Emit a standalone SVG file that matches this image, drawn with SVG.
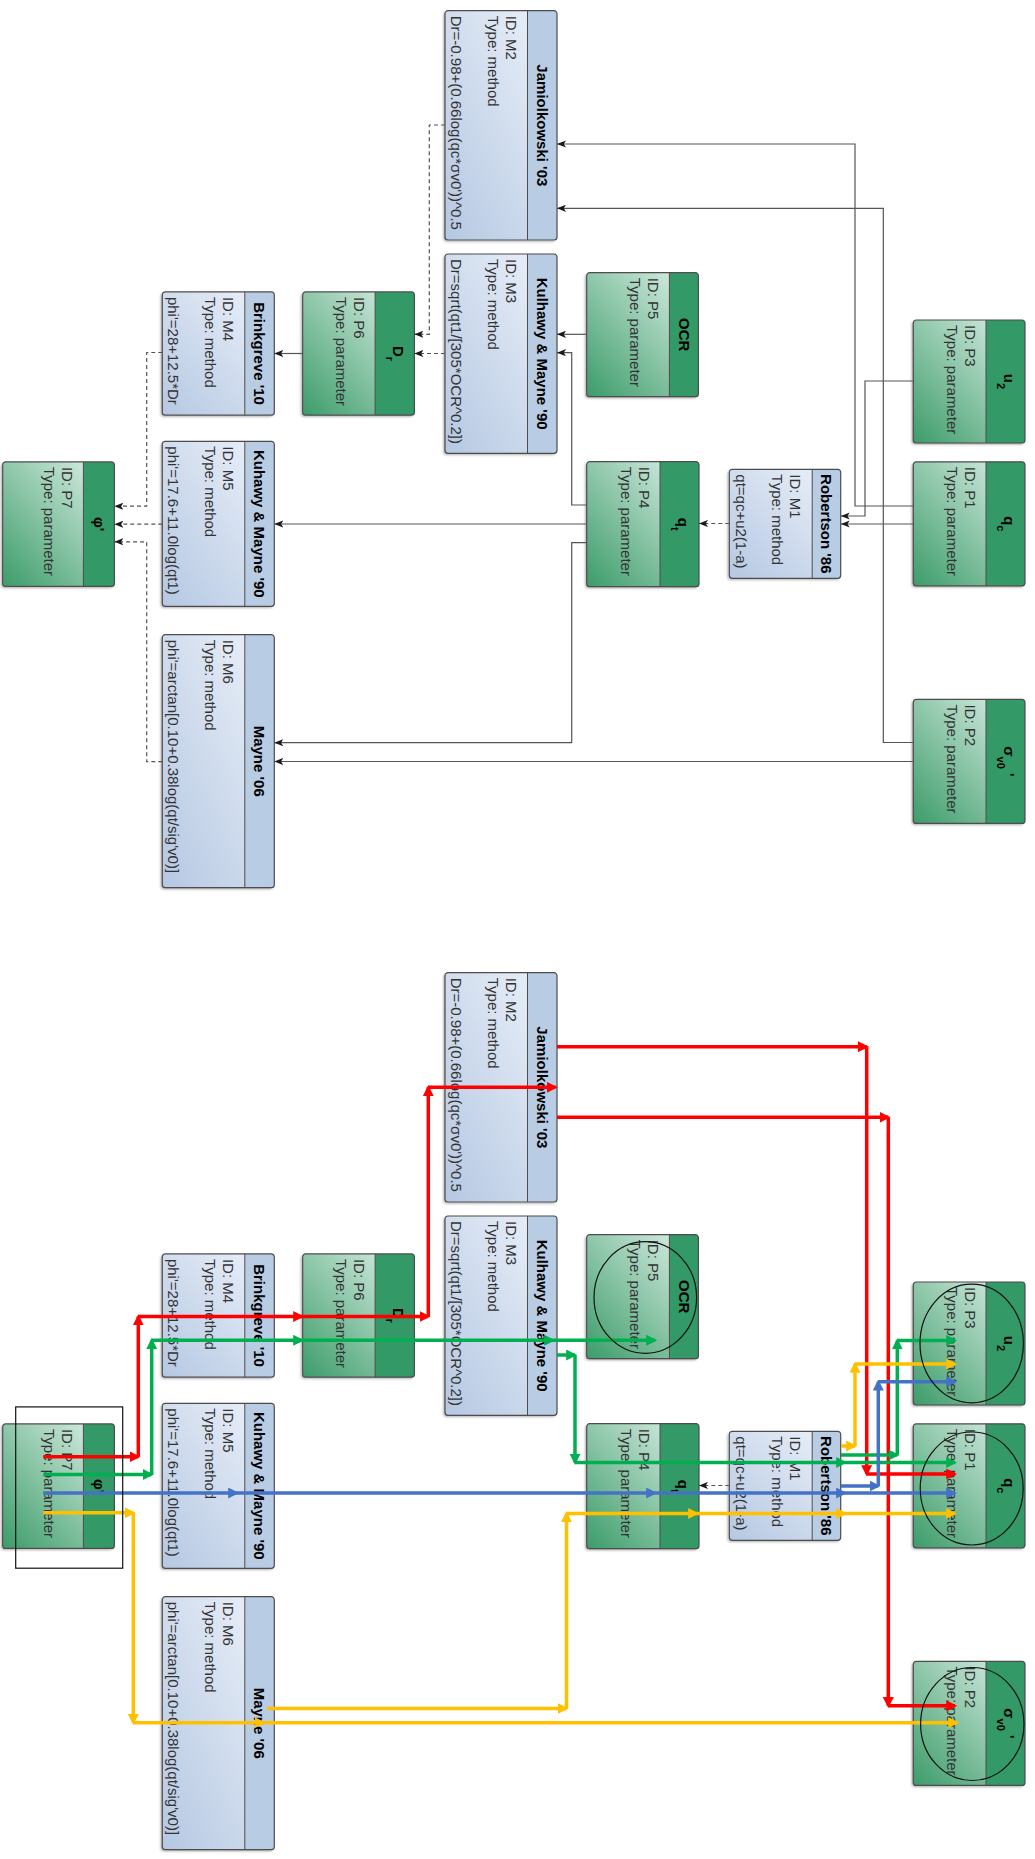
<svg xmlns="http://www.w3.org/2000/svg" width="1035" height="1859" viewBox="0 0 1035 1859">
<defs>
<linearGradient id="gm" x1="0" y1="0" x2="1" y2="1"><stop offset="0" stop-color="#edf2fa"/><stop offset="1" stop-color="#b5c8e2"/></linearGradient>
<linearGradient id="gp" x1="0" y1="0" x2="1" y2="1"><stop offset="0" stop-color="#e2f3ec"/><stop offset="1" stop-color="#3c9c69"/></linearGradient>
<filter id="sh" x="-10%" y="-10%" width="130%" height="130%"><feDropShadow dx="1.5" dy="1.5" stdDeviation="1.2" flood-color="#000" flood-opacity="0.35"/></filter>
<marker id="ag" viewBox="0 0 10 8" refX="10" refY="4" markerWidth="9" markerHeight="7.2" markerUnits="userSpaceOnUse" orient="auto"><path d="M0,0L10,4L0,8L2.5,4Z" fill="#1a1a1a"/></marker>
<marker id="ar" viewBox="0 0 10 10" refX="8" refY="5" markerWidth="11" markerHeight="11" markerUnits="userSpaceOnUse" orient="auto"><path d="M0,0L10,5L0,10Z" fill="#ff0000"/></marker>
<marker id="agr" viewBox="0 0 10 10" refX="8" refY="5" markerWidth="11" markerHeight="11" markerUnits="userSpaceOnUse" orient="auto"><path d="M0,0L10,5L0,10Z" fill="#00b050"/></marker>
<marker id="abl" viewBox="0 0 10 10" refX="8" refY="5" markerWidth="11" markerHeight="11" markerUnits="userSpaceOnUse" orient="auto"><path d="M0,0L10,5L0,10Z" fill="#4472c4"/></marker>
<marker id="ayl" viewBox="0 0 10 10" refX="8" refY="5" markerWidth="11" markerHeight="11" markerUnits="userSpaceOnUse" orient="auto"><path d="M0,0L10,5L0,10Z" fill="#ffc000"/></marker>
</defs>
<style>
.mb{fill:url(#gm);filter:url(#sh)}
.pb{fill:url(#gp);filter:url(#sh)}
.mh{fill:#b8cce4}
.ph{fill:#339966}
.ol{fill:none;stroke:#4d4d4d;stroke-width:1.2}
.dv{stroke:#4d4d4d;stroke-width:1}
.t{font-family:"Liberation Sans",Arial,sans-serif;font-weight:bold;font-size:15px;fill:#000;text-anchor:middle}
.s{font-size:11px}
.b{font-family:"Liberation Sans",Arial,sans-serif;font-size:15px;fill:#333}
.c{fill:none;stroke:#555;stroke-width:1.2;marker-end:url(#ag)}
.d{stroke-dasharray:4 3}
.r{fill:none;stroke:#ff0000;stroke-width:3.5;marker-end:url(#ar)}
.g{fill:none;stroke:#00b050;stroke-width:3.5;marker-end:url(#agr)}
.u{fill:none;stroke:#4472c4;stroke-width:3.5;marker-end:url(#abl)}
.y{fill:none;stroke:#ffc000;stroke-width:3.5;marker-end:url(#ayl)}
.e{fill:none;stroke:#111;stroke-width:1.2}
</style>
<rect width="1035" height="1859" fill="#fff"/>

<g id="top-nodes">
<g id="M2" transform="translate(557,10.7) rotate(90)"><rect class="mb" width="229.3" height="112" rx="3"/><path class="mh" d="M3,0H226.3A3,3 0 0 1 229.3,3V29.5H0V3A3,3 0 0 1 3,0Z"/><rect class="ol" width="229.3" height="112" rx="3"/><line class="dv" x1="0" y1="29.5" x2="229.3" y2="29.5"/><text class="t" x="114.65" y="20.25">Jamiolkowski '03</text><text class="b" x="5" y="51.3">ID: M2</text><text class="b" x="5" y="69.5">Type: method</text><text class="b" x="5" y="105.9">Dr=-0.98+(0.66log(qc*σv0'))^0.5</text></g>
<g id="M3" transform="translate(557,254) rotate(90)"><rect class="mb" width="199.3" height="112" rx="3"/><path class="mh" d="M3,0H196.3A3,3 0 0 1 199.3,3V29.5H0V3A3,3 0 0 1 3,0Z"/><rect class="ol" width="199.3" height="112" rx="3"/><line class="dv" x1="0" y1="29.5" x2="199.3" y2="29.5"/><text class="t" x="99.65" y="20.25">Kulhawy &amp; Mayne '90</text><text class="b" x="5" y="51.3">ID: M3</text><text class="b" x="5" y="69.5">Type: method</text><text class="b" x="5" y="105.9">Dr=sqrt(qt1/[305*OCR^0.2])</text></g>
<g id="M4" transform="translate(274.3,291.9) rotate(90)"><rect class="mb" width="123.3" height="112" rx="3"/><path class="mh" d="M3,0H120.3A3,3 0 0 1 123.3,3V29.5H0V3A3,3 0 0 1 3,0Z"/><rect class="ol" width="123.3" height="112" rx="3"/><line class="dv" x1="0" y1="29.5" x2="123.3" y2="29.5"/><text class="t" x="61.65" y="20.25">Brinkgreve '10</text><text class="b" x="5" y="51.3">ID: M4</text><text class="b" x="5" y="69.5">Type: method</text><text class="b" x="5" y="105.9">phi'=28+12.5*Dr</text></g>
<g id="M5" transform="translate(274.3,441.3) rotate(90)"><rect class="mb" width="165" height="112" rx="3"/><path class="mh" d="M3,0H162A3,3 0 0 1 165,3V29.5H0V3A3,3 0 0 1 3,0Z"/><rect class="ol" width="165" height="112" rx="3"/><line class="dv" x1="0" y1="29.5" x2="165" y2="29.5"/><text class="t" x="82.5" y="20.25">Kuhawy &amp; Mayne '90</text><text class="b" x="5" y="51.3">ID: M5</text><text class="b" x="5" y="69.5">Type: method</text><text class="b" x="5" y="105.9">phi'=17.6+11.0log(qt1)</text></g>
<g id="M6" transform="translate(274.3,634.7) rotate(90)"><rect class="mb" width="253" height="112" rx="3"/><path class="mh" d="M3,0H250A3,3 0 0 1 253,3V29.5H0V3A3,3 0 0 1 3,0Z"/><rect class="ol" width="253" height="112" rx="3"/><line class="dv" x1="0" y1="29.5" x2="253" y2="29.5"/><text class="t" x="126.5" y="20.25">Mayne '06</text><text class="b" x="5" y="51.3">ID: M6</text><text class="b" x="5" y="69.5">Type: method</text><text class="b" x="5" y="105.9">phi'=arctan[0.10+0.38log(qt/sig'v0)]</text></g>
<g id="M1" transform="translate(840.7,469.3) rotate(90)"><rect class="mb" width="109" height="111.4" rx="3"/><path class="mh" d="M3,0H106A3,3 0 0 1 109,3V28.5H0V3A3,3 0 0 1 3,0Z"/><rect class="ol" width="109" height="111.4" rx="3"/><line class="dv" x1="0" y1="28.5" x2="109" y2="28.5"/><text class="t" x="54.5" y="19.75">Robertson '86</text><text class="b" x="5" y="50.3">ID: M1</text><text class="b" x="5" y="68.5">Type: method</text><text class="b" x="5" y="104.9">qt=qc+u2(1-a)</text></g>
<g id="P5" transform="translate(698.4,272.7) rotate(90)"><rect class="pb" width="124" height="111.7" rx="3"/><path class="ph" d="M3,0H121A3,3 0 0 1 124,3V29H0V3A3,3 0 0 1 3,0Z"/><rect class="ol" width="124" height="111.7" rx="3"/><line class="dv" x1="0" y1="29" x2="124" y2="29"/><text class="t" x="62" y="19.8">OCR</text><text class="b" x="5" y="50">ID: P5</text><text class="b" x="5" y="68.5">Type: parameter</text></g>
<g id="P6" transform="translate(414.4,291.9) rotate(90)"><rect class="pb" width="123.3" height="111.7" rx="3"/><path class="ph" d="M3,0H120.3A3,3 0 0 1 123.3,3V39.3H0V3A3,3 0 0 1 3,0Z"/><rect class="ol" width="123.3" height="111.7" rx="3"/><line class="dv" x1="0" y1="39.3" x2="123.3" y2="39.3"/><text class="t" x="61.65" y="21.5">D<tspan class="s" dy="7">r</tspan></text><text class="b" x="5" y="60.3">ID: P6</text><text class="b" x="5" y="78.8">Type: parameter</text></g>
<g id="P7" transform="translate(114.4,461.9) rotate(90)"><rect class="pb" width="124.5" height="111.7" rx="3"/><path class="ph" d="M3,0H121.5A3,3 0 0 1 124.5,3V31H0V3A3,3 0 0 1 3,0Z"/><rect class="ol" width="124.5" height="111.7" rx="3"/><line class="dv" x1="0" y1="31" x2="124.5" y2="31"/><text class="t" x="62.25" y="20.5">φ'</text><text class="b" x="5" y="52">ID: P7</text><text class="b" x="5" y="70.5">Type: parameter</text></g>
<g id="P4" transform="translate(699,461.7) rotate(90)"><rect class="pb" width="125" height="112.3" rx="3"/><path class="ph" d="M3,0H122A3,3 0 0 1 125,3V39H0V3A3,3 0 0 1 3,0Z"/><rect class="ol" width="125" height="112.3" rx="3"/><line class="dv" x1="0" y1="39" x2="125" y2="39"/><text class="t" x="62.5" y="21">q<tspan class="s" dy="7">t</tspan></text><text class="b" x="5" y="60">ID: P4</text><text class="b" x="5" y="78.5">Type: parameter</text></g>
<g id="P3" transform="translate(1025,320) rotate(90)"><rect class="pb" width="123" height="111.7" rx="3"/><path class="ph" d="M3,0H120A3,3 0 0 1 123,3V39H0V3A3,3 0 0 1 3,0Z"/><rect class="ol" width="123" height="111.7" rx="3"/><line class="dv" x1="0" y1="39" x2="123" y2="39"/><text class="t" x="61.5" y="21">u<tspan class="s" dy="7">2</tspan></text><text class="b" x="5" y="60">ID: P3</text><text class="b" x="5" y="78.5">Type: parameter</text></g>
<g id="P1" transform="translate(1025,461.8) rotate(90)"><rect class="pb" width="124" height="111.7" rx="3"/><path class="ph" d="M3,0H121A3,3 0 0 1 124,3V39H0V3A3,3 0 0 1 3,0Z"/><rect class="ol" width="124" height="111.7" rx="3"/><line class="dv" x1="0" y1="39" x2="124" y2="39"/><text class="t" x="62" y="21">q<tspan class="s" dy="7">c</tspan></text><text class="b" x="5" y="60">ID: P1</text><text class="b" x="5" y="78.5">Type: parameter</text></g>
<g id="P2" transform="translate(1025,699.4) rotate(90)"><rect class="pb" width="124" height="111.7" rx="3"/><path class="ph" d="M3,0H121A3,3 0 0 1 124,3V39H0V3A3,3 0 0 1 3,0Z"/><rect class="ol" width="124" height="111.7" rx="3"/><line class="dv" x1="0" y1="39" x2="124" y2="39"/><text class="t" x="62" y="21">σ<tspan class="s" dy="7">v0</tspan><tspan dy="-7"> '</tspan></text><text class="b" x="5" y="60">ID: P2</text><text class="b" x="5" y="78.5">Type: parameter</text></g>
</g>

<g id="top-connectors">
<path class="c" d="M913.3,506H855V144H557"/>
<path class="c" d="M913.3,742.5H883.3V208.3H557"/>
<path class="c" d="M586.7,334.3H557"/>
<path class="c" d="M586.7,505H571.7V352.7H557"/>
<path class="c" d="M913.3,381H865V516H840.7"/>
<path class="c" d="M913.3,524H840.7"/>
<path class="c d" d="M729.3,523.5H699"/>
<path class="c d" d="M445,125H429.3V334.3H414.4"/>
<path class="c d" d="M445,353.5H414.4"/>
<path class="c" d="M302.7,353.5H274.3"/>
<path class="c" d="M586.7,524H274.3"/>
<path class="c" d="M586.7,542.7H571.7V742.7H274.3"/>
<path class="c" d="M913.3,761.5H274.3"/>
<path class="c d" d="M162.3,352.5H146.7V506.2H114.4"/>
<path class="c d" d="M162.3,524.2H114.4"/>
<path class="c d" d="M162.3,761.6H146.7V541.8H114.4"/>
</g>

<g id="bottom-nodes">
<g id="M2b" transform="translate(557,972.7) rotate(90)"><rect class="mb" width="229.3" height="112" rx="3"/><path class="mh" d="M3,0H226.3A3,3 0 0 1 229.3,3V29.5H0V3A3,3 0 0 1 3,0Z"/><rect class="ol" width="229.3" height="112" rx="3"/><line class="dv" x1="0" y1="29.5" x2="229.3" y2="29.5"/><text class="t" x="114.65" y="20.25">Jamiolkowski '03</text><text class="b" x="5" y="51.3">ID: M2</text><text class="b" x="5" y="69.5">Type: method</text><text class="b" x="5" y="105.9">Dr=-0.98+(0.66log(qc*σv0'))^0.5</text></g>
<g id="M3b" transform="translate(557,1216) rotate(90)"><rect class="mb" width="199.3" height="112" rx="3"/><path class="mh" d="M3,0H196.3A3,3 0 0 1 199.3,3V29.5H0V3A3,3 0 0 1 3,0Z"/><rect class="ol" width="199.3" height="112" rx="3"/><line class="dv" x1="0" y1="29.5" x2="199.3" y2="29.5"/><text class="t" x="99.65" y="20.25">Kulhawy &amp; Mayne '90</text><text class="b" x="5" y="51.3">ID: M3</text><text class="b" x="5" y="69.5">Type: method</text><text class="b" x="5" y="105.9">Dr=sqrt(qt1/[305*OCR^0.2])</text></g>
<g id="M4b" transform="translate(274.3,1253.9) rotate(90)"><rect class="mb" width="123.3" height="112" rx="3"/><path class="mh" d="M3,0H120.3A3,3 0 0 1 123.3,3V29.5H0V3A3,3 0 0 1 3,0Z"/><rect class="ol" width="123.3" height="112" rx="3"/><line class="dv" x1="0" y1="29.5" x2="123.3" y2="29.5"/><text class="t" x="61.65" y="20.25">Brinkgreve '10</text><text class="b" x="5" y="51.3">ID: M4</text><text class="b" x="5" y="69.5">Type: method</text><text class="b" x="5" y="105.9">phi'=28+12.5*Dr</text></g>
<g id="M5b" transform="translate(274.3,1403.3) rotate(90)"><rect class="mb" width="165" height="112" rx="3"/><path class="mh" d="M3,0H162A3,3 0 0 1 165,3V29.5H0V3A3,3 0 0 1 3,0Z"/><rect class="ol" width="165" height="112" rx="3"/><line class="dv" x1="0" y1="29.5" x2="165" y2="29.5"/><text class="t" x="82.5" y="20.25">Kuhawy &amp; Mayne '90</text><text class="b" x="5" y="51.3">ID: M5</text><text class="b" x="5" y="69.5">Type: method</text><text class="b" x="5" y="105.9">phi'=17.6+11.0log(qt1)</text></g>
<g id="M6b" transform="translate(274.3,1596.7) rotate(90)"><rect class="mb" width="253" height="112" rx="3"/><path class="mh" d="M3,0H250A3,3 0 0 1 253,3V29.5H0V3A3,3 0 0 1 3,0Z"/><rect class="ol" width="253" height="112" rx="3"/><line class="dv" x1="0" y1="29.5" x2="253" y2="29.5"/><text class="t" x="126.5" y="20.25">Mayne '06</text><text class="b" x="5" y="51.3">ID: M6</text><text class="b" x="5" y="69.5">Type: method</text><text class="b" x="5" y="105.9">phi'=arctan[0.10+0.38log(qt/sig'v0)]</text></g>
<g id="M1b" transform="translate(840.7,1431.3) rotate(90)"><rect class="mb" width="109" height="111.4" rx="3"/><path class="mh" d="M3,0H106A3,3 0 0 1 109,3V28.5H0V3A3,3 0 0 1 3,0Z"/><rect class="ol" width="109" height="111.4" rx="3"/><line class="dv" x1="0" y1="28.5" x2="109" y2="28.5"/><text class="t" x="54.5" y="19.75">Robertson '86</text><text class="b" x="5" y="50.3">ID: M1</text><text class="b" x="5" y="68.5">Type: method</text><text class="b" x="5" y="104.9">qt=qc+u2(1-a)</text></g>
<g id="P5b" transform="translate(698.4,1234.7) rotate(90)"><rect class="pb" width="124" height="111.7" rx="3"/><path class="ph" d="M3,0H121A3,3 0 0 1 124,3V29H0V3A3,3 0 0 1 3,0Z"/><rect class="ol" width="124" height="111.7" rx="3"/><line class="dv" x1="0" y1="29" x2="124" y2="29"/><text class="t" x="62" y="19.8">OCR</text><text class="b" x="5" y="50">ID: P5</text><text class="b" x="5" y="68.5">Type: parameter</text></g>
<g id="P6b" transform="translate(414.4,1253.9) rotate(90)"><rect class="pb" width="123.3" height="111.7" rx="3"/><path class="ph" d="M3,0H120.3A3,3 0 0 1 123.3,3V39.3H0V3A3,3 0 0 1 3,0Z"/><rect class="ol" width="123.3" height="111.7" rx="3"/><line class="dv" x1="0" y1="39.3" x2="123.3" y2="39.3"/><text class="t" x="61.65" y="21.5">D<tspan class="s" dy="7">r</tspan></text><text class="b" x="5" y="60.3">ID: P6</text><text class="b" x="5" y="78.8">Type: parameter</text></g>
<g id="P7b" transform="translate(114.4,1423.9) rotate(90)"><rect class="pb" width="124.5" height="111.7" rx="3"/><path class="ph" d="M3,0H121.5A3,3 0 0 1 124.5,3V31H0V3A3,3 0 0 1 3,0Z"/><rect class="ol" width="124.5" height="111.7" rx="3"/><line class="dv" x1="0" y1="31" x2="124.5" y2="31"/><text class="t" x="62.25" y="20.5">φ'</text><text class="b" x="5" y="52">ID: P7</text><text class="b" x="5" y="70.5">Type: parameter</text></g>
<g id="P4b" transform="translate(699,1423.7) rotate(90)"><rect class="pb" width="125" height="112.3" rx="3"/><path class="ph" d="M3,0H122A3,3 0 0 1 125,3V39H0V3A3,3 0 0 1 3,0Z"/><rect class="ol" width="125" height="112.3" rx="3"/><line class="dv" x1="0" y1="39" x2="125" y2="39"/><text class="t" x="62.5" y="21">q<tspan class="s" dy="7">t</tspan></text><text class="b" x="5" y="60">ID: P4</text><text class="b" x="5" y="78.5">Type: parameter</text></g>
<g id="P3b" transform="translate(1025,1282) rotate(90)"><rect class="pb" width="123" height="111.7" rx="3"/><path class="ph" d="M3,0H120A3,3 0 0 1 123,3V39H0V3A3,3 0 0 1 3,0Z"/><rect class="ol" width="123" height="111.7" rx="3"/><line class="dv" x1="0" y1="39" x2="123" y2="39"/><text class="t" x="61.5" y="21">u<tspan class="s" dy="7">2</tspan></text><text class="b" x="5" y="60">ID: P3</text><text class="b" x="5" y="78.5">Type: parameter</text></g>
<g id="P1b" transform="translate(1025,1423.8) rotate(90)"><rect class="pb" width="124" height="111.7" rx="3"/><path class="ph" d="M3,0H121A3,3 0 0 1 124,3V39H0V3A3,3 0 0 1 3,0Z"/><rect class="ol" width="124" height="111.7" rx="3"/><line class="dv" x1="0" y1="39" x2="124" y2="39"/><text class="t" x="62" y="21">q<tspan class="s" dy="7">c</tspan></text><text class="b" x="5" y="60">ID: P1</text><text class="b" x="5" y="78.5">Type: parameter</text></g>
<g id="P2b" transform="translate(1025,1661.4) rotate(90)"><rect class="pb" width="124" height="111.7" rx="3"/><path class="ph" d="M3,0H121A3,3 0 0 1 124,3V39H0V3A3,3 0 0 1 3,0Z"/><rect class="ol" width="124" height="111.7" rx="3"/><line class="dv" x1="0" y1="39" x2="124" y2="39"/><text class="t" x="62" y="21">σ<tspan class="s" dy="7">v0</tspan><tspan dy="-7"> '</tspan></text><text class="b" x="5" y="60">ID: P2</text><text class="b" x="5" y="78.5">Type: parameter</text></g>
</g>

<g id="bottom-connectors">
<path class="c d" d="M729.3,1485.5H699"/>
<g id="path-red">
<path class="r" d="M43.3,1456.7H138.3"/>
<path class="r" d="M138.3,1456.7V1316.5"/>
<path class="r" d="M138.3,1316.5H302"/>
<path class="r" d="M302,1316.5H428.3"/>
<path class="r" d="M428.3,1316.5V1087.3"/>
<path class="r" d="M428.3,1087.3H555.5"/>
<path class="r" d="M557,1046.7H866.7"/>
<path class="r" d="M866.7,1046.7V1474"/>
<path class="r" d="M866.7,1474H955"/>
<path class="r" d="M557,1117.3H888.3"/>
<path class="r" d="M888.3,1117.3V1705.8"/>
<path class="r" d="M888.3,1705.8H955"/>
</g>
<g id="path-green">
<path class="g" d="M43.3,1474.5H151.7"/>
<path class="g" d="M151.7,1474.5V1340.3"/>
<path class="g" d="M151.7,1340.3H302"/>
<path class="g" d="M302,1340.3H553"/>
<path class="g" d="M553,1340.3H655"/>
<path class="g" d="M557,1355H575"/>
<path class="g" d="M575,1355V1462.5"/>
<path class="g" d="M575,1462.5H845"/>
<path class="g" d="M845,1462.5H955"/>
<path class="g" d="M841,1455H897.3"/>
<path class="g" d="M897.3,1455V1340.5"/>
<path class="g" d="M897.3,1340.5H955"/>
</g>
<g id="path-blue">
<path class="u" d="M43.3,1493H237"/>
<path class="u" d="M237,1493H655"/>
<path class="u" d="M655,1493H845"/>
<path class="u" d="M845,1493H955"/>
<path class="u" d="M841,1486H878.3"/>
<path class="u" d="M878.3,1486V1381.7"/>
<path class="u" d="M878.3,1381.7H955"/>
</g>
<g id="path-yellow">
<path class="y" d="M43.3,1512.8H133.3"/>
<path class="y" d="M133.3,1512.8V1722.7"/>
<path class="y" d="M133.3,1722.7H263.5"/>
<path class="y" d="M263.5,1722.7H957"/>
<path class="y" d="M267,1708.5H566.5"/>
<path class="y" d="M566.5,1708.5V1513.5"/>
<path class="y" d="M566.5,1513.5H697"/>
<path class="y" d="M697,1513.5H845"/>
<path class="y" d="M845,1513.5H955"/>
<path class="y" d="M841,1446H855"/>
<path class="y" d="M855,1446V1364"/>
<path class="y" d="M855,1364H955"/>
</g>
</g>

<g id="marks">
<ellipse class="e" cx="645.3" cy="1297.5" rx="51.3" ry="55.8"/>
<ellipse class="e" cx="971.7" cy="1343.5" rx="51.7" ry="59.3"/>
<ellipse class="e" cx="971.7" cy="1488.5" rx="51.5" ry="56.5"/>
<ellipse class="e" cx="972.3" cy="1724" rx="51.7" ry="56.5"/>
<rect class="e" x="15.7" y="1406.9" width="107" height="161.3"/>
</g>
</svg>
